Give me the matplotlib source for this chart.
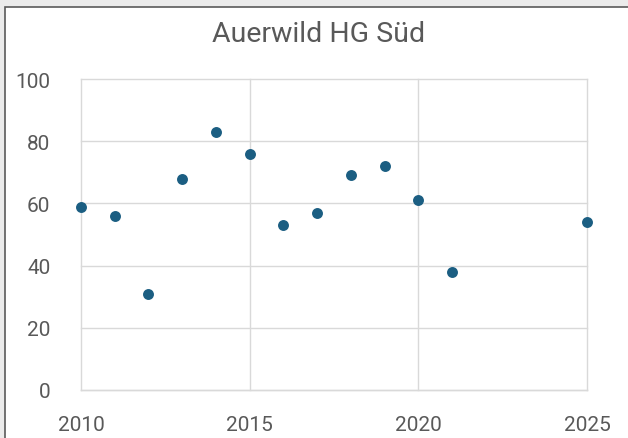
import matplotlib.pyplot as plt
from matplotlib.patches import Rectangle

# Data
years = [2010, 2011, 2012, 2013, 2014, 2015, 2016, 2017, 2018, 2019, 2020, 2021, 2025]
values = [59, 56, 31, 68, 83, 76, 53, 57, 69, 72, 61, 38, 54]
x_ticks = [2010, 2015, 2020, 2025]
y_ticks = [0, 20, 40, 60, 80, 100]

text_color = '#595959'
grid_color = '#d9d9d9'
point_color = '#1b5e82'

plt.rcParams['font.family'] = ['Roboto', 'DejaVu Sans']

fig = plt.figure(figsize=(6.28, 4.39), dpi=100, facecolor='#ebebeb')

# white chart area with a dark frame (cut off at right and bottom)
W, H = 628, 439
fig.patches.append(Rectangle((4.5 / W, -0.1), 1.2, 1.1 - 8.5 / H,
                             transform=fig.transFigure, facecolor='white',
                             edgecolor='#5a5a5a', linewidth=1.2, zorder=-5))

ax = fig.add_axes([81 / W, 1 - 391 / H, (587 - 81) / W, (391 - 80) / H])
ax.set_facecolor('white')

ax.scatter(years, values, s=62, color=point_color, zorder=3, linewidths=0,
           clip_on=False)

ax.set_xlim(2010, 2025)
ax.set_ylim(0, 100)
ax.set_xticks(x_ticks)
ax.set_yticks(y_ticks)
ax.grid(True, color=grid_color, linewidth=1.0)
ax.set_axisbelow(True)
# keep the edge gridlines fully visible
for gl in ax.xaxis.get_gridlines() + ax.yaxis.get_gridlines():
    gl.set_clip_on(False)
for side in ['top', 'right', 'left']:
    ax.spines[side].set_visible(False)
ax.spines['bottom'].set_color(grid_color)
ax.spines['bottom'].set_linewidth(1.0)
ax.tick_params(axis='both', length=0, labelsize=15, colors=text_color)
ax.tick_params(axis='y', pad=22)
ax.tick_params(axis='x', pad=18)

fig.text(319 / W, 1 - 35 / H, 'Auerwild HG Süd', ha='center', va='center',
         fontsize=20.5, color=text_color)

fig.savefig('out.png', dpi=100, facecolor=fig.get_facecolor())
